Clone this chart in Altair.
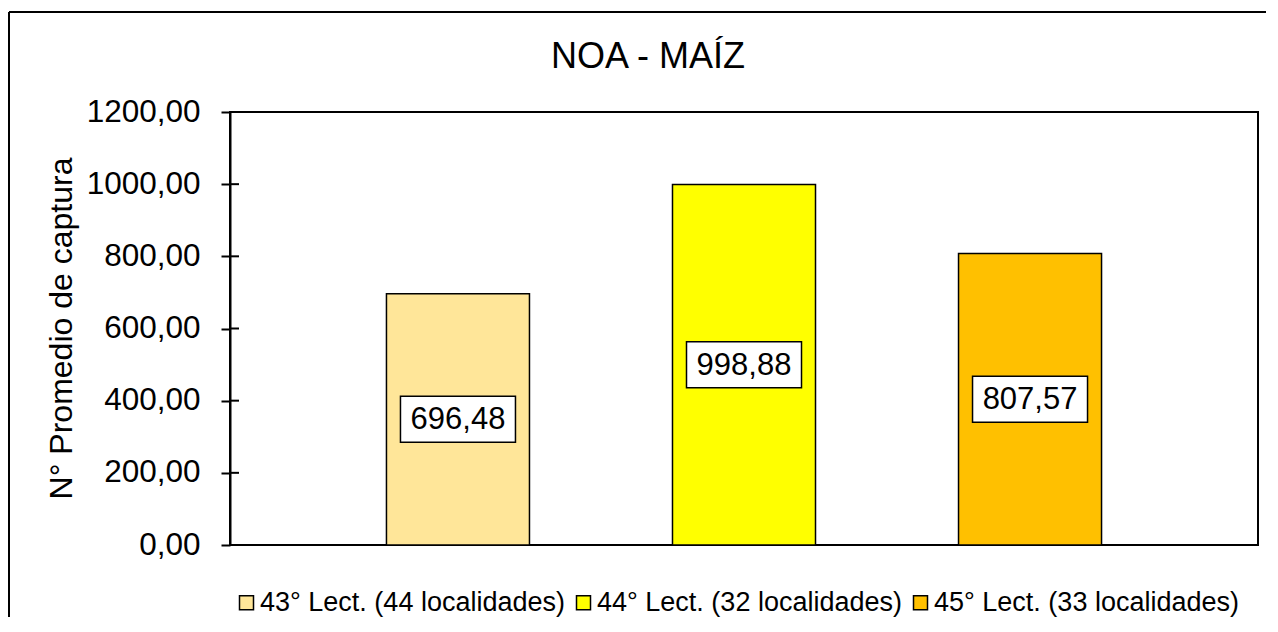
import altair as alt
import pandas as pd

series = ["43° Lect. (44 localidades)", "44° Lect. (32 localidades)", "45° Lect. (33 localidades)"]
values = [696.48, 998.88, 807.57]
colors = ["#FFE699", "#FFFF00", "#FFC000"]
y_ticks = [0, 200, 400, 600, 800, 1000, 1200]
chart_title = "NOA - MAÍZ"
y_title = "N° Promedio de captura"

FONT = "Liberation Sans"

df = pd.DataFrame({"serie": series, "valor": values})
df_ticks = pd.DataFrame({"tick": y_ticks})
df_one = pd.DataFrame({"k": [0]})
df_title = pd.DataFrame({"t": [chart_title]})

label_expr = "replace(format(datum.value, '.2f'), '.', ',')"
y_scale = alt.Scale(domain=[0, 1200], nice=False, zero=True)
y_axis = alt.Axis(values=y_ticks, title=y_title, labelExpr=label_expr,
                  grid=False, domainColor="black", domainWidth=2,
                  tickColor="black", tickWidth=2, tickSize=9,
                  labelFont=FONT, labelFontSize=31.5, labelColor="black",
                  labelPadding=21, titleFont=FONT, titleFontSize=32,
                  titleFontWeight="normal", titleColor="black",
                  titleX=-169, titleY=216, titleAngle=270,
                  titleBaseline="middle", titleAlign="center")
x_enc = alt.X("serie:N", sort=series, axis=None,
              scale=alt.Scale(domain=series, paddingInner=0.5, paddingOuter=0.547))

bars = alt.Chart(df).mark_bar(stroke="black", strokeWidth=1.5).encode(
    x=x_enc,
    y=alt.Y("valor:Q", scale=y_scale, axis=y_axis),
    fill=alt.Fill("serie:N", scale=alt.Scale(domain=series, range=colors),
                  legend=alt.Legend(orient="none", legendX=3, legendY=477,
                                    direction="horizontal", title=None,
                                    symbolType="square", symbolSize=196,
                                    symbolStrokeColor="black", symbolStrokeWidth=1.5,
                                    symbolOpacity=1,
                                    labelFont=FONT, labelFontSize=27, labelColor="black",
                                    labelOffset=0, columnPadding=5, labelLimit=0,
                                    padding=0)),
)

inner_ticks = alt.Chart(df_ticks).mark_rule(color="black", strokeWidth=2).encode(
    x=alt.value(0), x2=alt.value(9),
    y=alt.Y("tick:Q", scale=y_scale, axis=y_axis),
)

boxes = alt.Chart(df).transform_calculate(mid="datum.valor / 2").mark_point(
    shape="M-1,-0.4H1V0.4H-1Z", size=13225, filled=True, fill="white",
    stroke="black", strokeWidth=1.5, opacity=1
).encode(
    x=x_enc,
    y=alt.Y("mid:Q", scale=y_scale, axis=y_axis),
)

texts = alt.Chart(df).transform_calculate(
    mid="datum.valor / 2",
    lab="replace(format(datum.valor, '.2f'), '.', ',')",
).mark_text(font=FONT, fontSize=31, color="black", baseline="middle", align="center", dy=1).encode(
    x=x_enc,
    y=alt.Y("mid:Q", scale=y_scale, axis=y_axis),
    text="lab:N",
)

title_mark = alt.Chart(df_title).mark_text(
    font=FONT, fontSize=36, color="black", align="center", baseline="alphabetic"
).encode(x=alt.value(418), y=alt.value(-44), text="t:N")

frame_top = alt.Chart(df_one).mark_rule(color="black", strokeWidth=2).encode(
    x=alt.value(-221), x2=alt.value(1040), y=alt.value(-100)
)
frame_left = alt.Chart(df_one).mark_rule(color="black", strokeWidth=2).encode(
    x=alt.value(-221), y=alt.value(-100), y2=alt.value(540)
)

chart = alt.layer(frame_top, frame_left, title_mark, bars, inner_ticks, boxes, texts).properties(
    width=1028, height=433,
    padding={"left": 222, "top": 104, "right": 8, "bottom": 72},
    autosize=alt.AutoSizeParams(type="none"),
    background="white",
).configure_view(stroke="black", strokeWidth=2)

chart.save("out.html", embed_options={"renderer": "svg", "actions": False})
